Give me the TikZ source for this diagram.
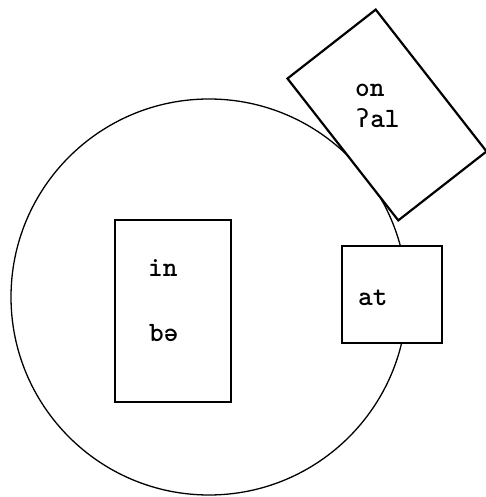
\documentclass[tikz,border=0pt]{standalone}
\usepackage{fontspec}
\newfontfamily\ipamono{DejaVu Sans Mono}
\usepackage{tikz}
\usetikzlibrary{positioning}

\begin{document}
\begin{tikzpicture}[x=1pt, y=1pt,
    card/.style={rectangle, draw, fill=white, line width=2.2pt, inner sep=0pt},
    word/.style={anchor=base west, inner sep=0pt, font=\fontsize{28}{34}\selectfont\ttfamily\bfseries}]
    \useasboundingbox (0,0) rectangle (486,497);

    % the round domain
    \draw[line width=1.3pt] (209,200) circle (198);

    % boxes sitting in, on and at the circle
    \node[card, minimum width=116pt, minimum height=182pt] (inbox) at (173,186) {};
    \node[card, minimum width=100pt, minimum height=97pt] (atbox) at (392,202.5) {};
    \node[card, minimum width=112pt, minimum height=180pt, rotate=38] (onbox) at (387,382) {};

    \node[word] (in) at (148,220) {in};
    \node[word] (be) at (149,155) {bə};
    \node[word] (at) at (358,191) {at};
    \node[word] (on) at (355,400) {on};
    \node[word] (al) at (355,369) {{\ipamono\mdseries\fontsize{25}{30}\selectfont ʔ}al};
\end{tikzpicture}
\end{document}
